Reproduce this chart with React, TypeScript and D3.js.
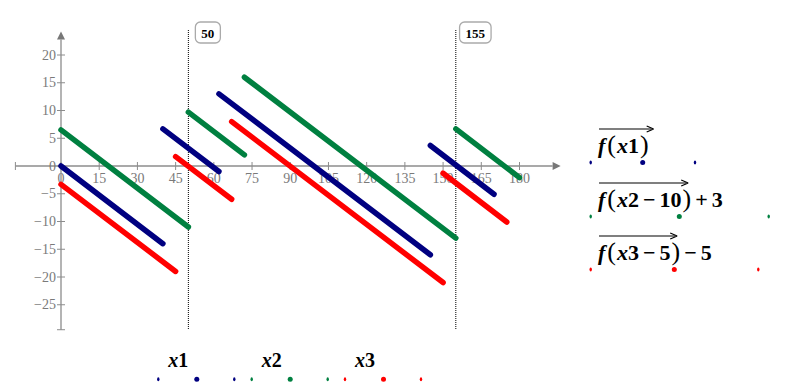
import React, { useEffect, useRef } from 'react';
import * as d3 from 'd3';

// values
const x1Segments: [number, number][][] = [
  [[0, 0], [40, -14]],
  [[40, 6.7], [62, -1]],
  [[62, 13], [145, -16]],
  [[145, 3.7], [170, -5.1]],
];
const x2Segments: [number, number][][] = [
  [[0, 6.5], [50, -11]],
  [[50, 9.7], [72, 2]],
  [[72, 16], [155, -13]],
  [[155, 6.7], [180, -2.1]],
];
const x3Segments: [number, number][][] = [
  [[0, -3.3], [45, -19]],
  [[45, 1.7], [67, -6]],
  [[67, 8], [150, -21]],
  [[150, -1.3], [175, -10.1]],
];
const xTicks = [0, 15, 30, 45, 60, 75, 90, 105, 120, 135, 150, 165, 180];
const yTicks = [-25, -20, -15, -10, -5, 0, 5, 10, 15, 20];
const markers = [50, 155];
const seriesNames = ['x1', 'x2', 'x3'];
const seriesColors = ['#000080', '#008040', '#ff0000'];
// legend: argument of f under the arrow, then what follows it
const legendArgs = [['1'], ['2', '\u2212', '10'], ['3', '\u2212', '5']];
const legendTail = [[], ['+', '3'], ['\u2212', '5']];

const W = 795;
const H = 392;
const SERIF = '"Liberation Serif", "DejaVu Serif", serif';

const App = () => {
  const ref = useRef<SVGSVGElement>(null);

  useEffect(() => {
    drawChart();
  }, []);

  function drawChart() {
    const svg = d3.select(ref.current);
    svg.selectAll('*').remove();

    const x = d3.scaleLinear().domain([0, 180]).range([61, 519.5]);
    const y = d3.scaleLinear().domain([-25, 20]).range([304.75, 55]);
    const axisColor = '#8c8c8c';

    // x axis
    const xAxis = svg.append('g');
    xAxis.append('line')
      .attr('x1', x(-17.9)).attr('x2', x(193))
      .attr('y1', y(0)).attr('y2', y(0))
      .attr('stroke', axisColor).attr('stroke-width', 1.3);
    xAxis.append('path')
      .attr('d', `M${x(193) + 8},${y(0)} L${x(193)},${y(0) - 4} L${x(193)},${y(0) + 4} Z`)
      .attr('fill', '#777');
    xAxis.append('line')
      .attr('x1', x(-17.9)).attr('x2', x(-17.9))
      .attr('y1', y(0) - 4).attr('y2', y(0) + 4)
      .attr('stroke', axisColor);
    xAxis.selectAll('.xt').data(xTicks).enter().append('line')
      .attr('x1', (d) => x(d)).attr('x2', (d) => x(d))
      .attr('y1', y(0) - 4).attr('y2', y(0) + 4)
      .attr('stroke', axisColor);
    xAxis.selectAll('.xl').data(xTicks).enter().append('text')
      .attr('x', (d) => x(d)).attr('y', y(0) + 17)
      .attr('text-anchor', 'middle')
      .style('font-family', SERIF).style('font-size', '14px').style('fill', '#7a7a7a')
      .text((d) => d3.format('')(d));

    // y axis
    const yAxis = svg.append('g');
    yAxis.append('line')
      .attr('x1', x(0)).attr('x2', x(0))
      .attr('y1', y(-29.5)).attr('y2', y(22.8))
      .attr('stroke', axisColor).attr('stroke-width', 1.3);
    yAxis.append('path')
      .attr('d', `M${x(0)},${y(22.8) - 8} L${x(0) - 4},${y(22.8)} L${x(0) + 4},${y(22.8)} Z`)
      .attr('fill', '#777');
    yAxis.append('line')
      .attr('x1', x(0) - 4).attr('x2', x(0) + 4)
      .attr('y1', y(-29.5)).attr('y2', y(-29.5))
      .attr('stroke', axisColor);
    yAxis.selectAll('.yt').data(yTicks).enter().append('line')
      .attr('x1', x(0) - 4).attr('x2', x(0) + 4)
      .attr('y1', (d) => y(d)).attr('y2', (d) => y(d))
      .attr('stroke', axisColor);
    yAxis.selectAll('.yl').data(yTicks).enter().append('text')
      .attr('x', x(0) - 5).attr('y', (d) => y(d) + 4.5)
      .attr('text-anchor', 'end')
      .style('font-family', SERIF).style('font-size', '14px').style('fill', '#7a7a7a')
      .text((d) => (d < 0 ? '\u2212' + Math.abs(d) : String(d)));

    // marker lines
    markers.forEach((m) => {
      const g = svg.append('g');
      g.append('line')
        .attr('x1', x(m)).attr('x2', x(m))
        .attr('y1', 30).attr('y2', y(-29.5))
        .attr('stroke', '#000').attr('stroke-width', 1)
        .attr('stroke-dasharray', '1,1');
      const box = g.append('rect');
      const t = g.append('text')
        .attr('x', x(m) + 19.5).attr('y', 37.5)
        .attr('text-anchor', 'middle')
        .style('font-family', SERIF).style('font-size', '13px').style('font-weight', 'bold')
        .text(String(m));
      const w = (t.node() as SVGTextElement).getComputedTextLength();
      box
        .attr('x', x(m) + 19.5 - w / 2 - 6).attr('y', 22)
        .attr('width', w + 12).attr('height', 21)
        .attr('rx', 5)
        .attr('fill', 'white').attr('stroke', '#aaa').attr('stroke-width', 1.3);
    });

    // series
    const lineGen = d3.line<[number, number]>()
      .x((d) => x(d[0]))
      .y((d) => y(d[1]));
    [x1Segments, x2Segments, x3Segments].forEach((segs, i) => {
      svg.append('g').selectAll('path').data(segs).enter().append('path')
        .attr('d', (d) => lineGen(d))
        .attr('fill', 'none')
        .attr('stroke', seriesColors[i])
        .attr('stroke-width', 5.5)
        .attr('stroke-linecap', 'round');
    });

    // right legend
    const legendDots = [
      [590.7, 642.7, 695],
      [590.7, 679.3, 768.7],
      [590.7, 674.3, 758.3],
    ];
    const legendY = [153, 207, 260];
    const op = (s: string) => s === '\u2212' || s === '+';
    legendArgs.forEach((args, i) => {
      const g = svg.append('g');
      const t = g.append('text')
        .attr('x', 598).attr('y', legendY[i])
        .style('font-family', SERIF).style('font-size', '22px').style('font-weight', 'bold');
      const main = t.append('tspan');
      main.append('tspan').style('font-style', 'italic').text('f');
      main.append('tspan').attr('dx', 2).style('font-size', '26px').style('font-weight', 'normal').text('(');
      main.append('tspan').attr('dx', 1).style('font-style', 'italic').text('x');
      args.forEach((a, k) => {
        const prev = k > 0 ? args[k - 1] : '';
        main.append('tspan').attr('dx', op(a) || op(prev) ? 4 : 0).text(a);
      });
      main.append('tspan').attr('dx', 1).style('font-size', '26px').style('font-weight', 'normal').text(')');
      legendTail[i].forEach((a) => {
        t.append('tspan').attr('dx', 4).text(a);
      });
      const w = (main.node() as SVGTextContentElement).getComputedTextLength() + 6;
      const ay = legendY[i] - 24;
      g.append('line')
        .attr('x1', 599).attr('x2', 598 + w + 1)
        .attr('y1', ay).attr('y2', ay)
        .attr('stroke', '#000').attr('stroke-width', 1.2);
      g.append('path')
        .attr('d', `M${598 + w + 3},${ay} L${598 + w - 4},${ay - 3} M${598 + w + 3},${ay} L${598 + w - 4},${ay + 3}`)
        .attr('stroke', '#000').attr('stroke-width', 1.2).attr('fill', 'none');
      legendDots[i].forEach((cx, j) => {
        g.append('ellipse')
          .attr('cx', cx).attr('cy', legendY[i] + 9.5)
          .attr('rx', j === 1 ? 2.5 : 1.2).attr('ry', j === 1 ? 2.5 : 2)
          .attr('fill', seriesColors[i]);
      });
    });

    // bottom legend
    const bottomStart = [158.3, 251.7, 345];
    seriesNames.forEach((name, i) => {
      const g = svg.append('g');
      const x0 = bottomStart[i];
      const t = g.append('text')
        .attr('x', x0 + 10).attr('y', 367)
        .style('font-family', SERIF).style('font-size', '20px').style('font-weight', 'bold');
      t.append('tspan').style('font-style', 'italic').text(name.charAt(0));
      t.append('tspan').text(name.slice(1));
      [0, 38.5, 76].forEach((dx, j) => {
        g.append('ellipse')
          .attr('cx', x0 + dx).attr('cy', 379.3)
          .attr('rx', j === 1 ? 2.5 : 1.2).attr('ry', j === 1 ? 2.5 : 2)
          .attr('fill', seriesColors[i]);
      });
    });
  }

  return (
    <svg
      ref={ref}
      width={W}
      height={H}
      style={{ position: 'absolute', left: 0, top: 0, background: 'white' }}
    />
  );
};

export default App;
